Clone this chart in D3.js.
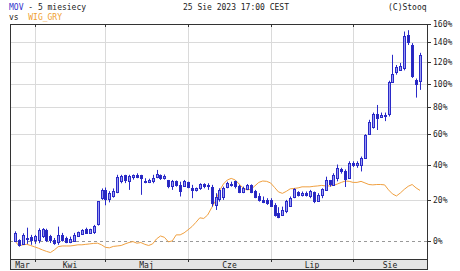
<!DOCTYPE html>
<html>
<head>
<meta charset="utf-8">
<script src="https://cdn.jsdelivr.net/npm/d3@7"></script>
<style>
body { margin: 0; background: #fff; }
svg { display: block; }
text { font-family: "DejaVu Sans Mono", monospace; font-size: 8px; fill: #222; }
</style>
</head>
<body>
<div id="chart"></div>
<script>
// trading days, Mar 27 - Aug 25 2023 (MM-DD)
const days = [
  "03-27","03-28","03-29","03-30","03-31",
  "04-03","04-04","04-05","04-06","04-11","04-12","04-13","04-14","04-17","04-18","04-19","04-20","04-21","04-24","04-25","04-26","04-27","04-28",
  "05-02","05-04","05-05","05-08","05-09","05-10","05-11","05-12","05-15","05-16","05-17","05-18","05-19","05-22","05-23","05-24","05-25","05-26","05-29","05-30","05-31",
  "06-01","06-02","06-05","06-06","06-07","06-09","06-12","06-13","06-14","06-15","06-16","06-19","06-20","06-21","06-22","06-23","06-26","06-27","06-28","06-29","06-30",
  "07-03","07-04","07-05","07-06","07-07","07-10","07-11","07-12","07-13","07-14","07-17","07-18","07-19","07-20","07-21","07-24","07-25","07-26","07-27","07-28","07-31",
  "08-01","08-02","08-03","08-04","08-07","08-08","08-09","08-10","08-11","08-14","08-16","08-17","08-18","08-21","08-22","08-23","08-24","08-25"
];
const monthNames = ["Mar", "Kwi", "Maj", "Cze", "Lip", "Sie"];

// MOV, % change
const open = [0.3,0.2,-1.0,1.5,1.8,0.3,0.5,2.2,5.0,2.0, 0.5,-0.8,2.8,1.5,-0.5,0.3,2.2,3.0,5.6,3.5,
  4.0,7.3,20.5,25.0,20.5,22.0,24.3,30.0,33.5,30.5, 32.5,33.5,33.5,30.0,29.5,30.0,32.5,33.5,32.0,30.5,
  27.0,30.0,28.0,27.0,29.5,26.0,24.8,26.0,28.5,27.5, 27.0,17.5,20.0,21.0,27.0,28.5,30.0,27.5,24.0,25.5,
  28.0,24.5,22.0,20.0,19.5,20.0,17.0,13.0,12.0,14.0, 17.0,21.0,24.0,22.5,23.5,22.0,24.0,19.5,22.0,25.5,
  30.5,28.0,32.0,37.0,36.0,32.0,41.0,40.0,39.8,44.0, 60.0,65.0,75.0,73.0,73.0,74.5,102.0,110.0,113.0,114.5,
  148.0,137.0,103.5,102.0];
const high = [4.3,0.7,3.4,6.0,2.7,2.7,5.7,5.8,5.5,2.7, 1.3,6.5,3.6,1.9,1.9,3.6,4.2,5.3,6.0,5.5,
  7.3,19.2,26.0,26.5,24.5,26.0,33.8,33.8,33.8,33.8, 34.0,34.7,33.8,31.8,31.5,33.8,36.7,34.0,34.0,30.8,
  30.8,30.5,29.8,30.8,29.8,28.0,26.5,28.9,28.9,28.9, 28.0,23.4,26.1,27.0,29.8,29.8,30.4,28.0,27.0,28.5,
  28.3,25.2,23.4,21.6,20.7,20.7,18.1,16.0,16.3,19.8, 21.6,26.1,24.5,24.3,24.3,25.2,24.3,23.4,26.1,32.7,
  30.8,34.7,40.0,38.0,37.0,42.0,42.0,42.0,45.0,60.0, 70.5,76.0,82.0,76.0,76.0,102.5,127.0,117.0,119.0,151.5,
  153.0,139.0,104.5,129.0];
const low = [-0.5,-2.5,-1.7,-1.3,-1.7,-1.3,-1.0,1.3,-0.5,-0.9, -1.7,-1.7,-0.3,-1.0,-1.0,-0.3,1.9,2.7,3.1,3.1,
  3.1,7.0,19.8,17.0,18.5,21.0,23.4,28.9,29.0,25.2, 31.0,31.8,22.5,28.9,29.0,28.9,31.8,30.8,31.0,26.1,
  25.2,27.0,21.6,27.0,26.1,20.7,24.3,25.2,26.1,25.2, 16.3,14.6,18.9,19.8,26.1,27.0,26.0,23.4,23.4,25.2,
  23.4,20.7,18.9,18.1,17.2,16.3,11.3,10.5,12.0,13.0, 16.3,20.7,21.6,21.6,21.6,20.7,18.1,18.9,20.7,25.2,
  27.0,28.0,30.0,34.5,26.8,31.5,38.5,38.0,35.8,43.5, 59.5,64.0,63.0,72.0,69.5,73.0,101.0,108.0,112.0,112.0,
  137.0,105.0,88.0,94.5];
const close = [3.7,-1.8,2.8,1.0,0.5,2.2,5.0,5.2,0.5,0.2, -1.0,2.5,0.5,-0.2,1.0,2.8,3.8,5.0,3.6,5.2,
  6.8,19.0,25.0,20.0,23.5,24.5,32.7,33.0,30.5,33.3, 33.5,32.5,32.0,29.5,30.5,31.8,34.5,32.0,33.0,27.0,
  30.0,27.5,24.5,30.0,26.5,25.0,26.0,28.5,27.5,28.0, 18.5,21.5,25.0,26.0,29.0,28.0,27.0,24.0,26.0,28.0,
  24.0,21.5,20.0,19.0,18.0,16.8,12.0,11.0,14.5,19.0, 21.0,25.5,22.5,23.5,22.5,24.5,19.0,22.5,25.5,31.0,
  28.0,33.5,38.0,35.5,31.5,41.0,40.0,41.0,44.0,59.5, 69.0,75.0,72.0,74.5,74.0,101.0,109.0,115.0,116.5,147.0,
  140.0,107.0,100.0,127.0];

// WIG_GRY, % change
const wig = [0,-2.2,-1.7,-1.5,-2.0,-2.6,-3.2,-3.9,-4.5,-5.0, -3.9,-2.5,-2.2,-2.2,-2.2,-2.0,-1.7,-1.7,-1.5,-1.3,
  -1.1,-1.0,-1.7,-2.8,-3.0,-2.4,-2.2,-2.0,-1.3,-0.7, -0.3,-1.0,-0.7,-1.5,-2.0,-1.3,0.9,2.2,1.6,-0.4,
  0,2.7,2.7,3.6,5.0,6.5,8.5,10.7,10.4,12.1, 15.7,19.3,24.7,28.5,30.8,31.7,30.8,28.5,26.3,25.2,
  25.5,27.4,29.4,30.2,30.0,29.1,26.6,24.1,23.3,24.4, 25.8,26.0,26.3,26.9,26.9,26.9,27.2,27.4,27.7,27.4,
  27.4,27.7,28.5,29.4,30.2,30.0,29.4,29.4,30.0,29.1, 28.2,28.0,28.2,28.2,28.0,25.2,23.0,21.9,23.5,25.5,
  27.2,28.2,26.3,24.9];

const yTicks = [0, 20, 40, 60, 80, 100, 120, 140, 160];

const width = 460, height = 271;
const plotL = 10, plotR = 427, plotT = 24, plotB = 259, band = 10;

const svg = d3.select("#chart").append("svg")
    .attr("width", width)
    .attr("height", height);

const x = d3.scalePoint()
    .domain(d3.range(days.length))
    .range([15, 420]);

// log scale on growth factor
const y = d3.scaleLog()
    .domain([0.9234, 2.6])
    .range([plotB, plotT]);
const yp = p => y(1 + p / 100);
const px = i => Math.round(x(i));

// month start indices
const monthStarts = [];
days.forEach((d, i) => {
    if (i === 0 || d.slice(0, 2) !== days[i - 1].slice(0, 2)) monthStarts.push(i);
});

// grid
svg.append("g").selectAll("line")
    .data(yTicks.filter(t => t > 0))
    .enter().append("line")
    .attr("x1", plotL).attr("x2", plotR)
    .attr("y1", d => Math.round(yp(d)) + 0.5)
    .attr("y2", d => Math.round(yp(d)) + 0.5)
    .attr("stroke", "#dadada");

svg.append("line")
    .attr("x1", plotL).attr("x2", plotR)
    .attr("y1", Math.round(yp(0)) + 0.5)
    .attr("y2", Math.round(yp(0)) + 0.5)
    .attr("stroke", "#999")
    .attr("stroke-dasharray", "3,3");

svg.append("g").selectAll("line")
    .data(monthStarts.slice(1))
    .enter().append("line")
    .attr("x1", d => px(d) + 0.5).attr("x2", d => px(d) + 0.5)
    .attr("y1", plotT).attr("y2", plotB)
    .attr("stroke", "#dadada");

// WIG_GRY line
svg.append("path")
    .datum(wig)
    .attr("fill", "none")
    .attr("stroke", "#f0a040")
    .attr("stroke-width", 1)
    .attr("d", d3.line().x((d, i) => x(i)).y(d => yp(d)));

// candles
const candles = svg.append("g").selectAll("g")
    .data(days.map((d, i) => i))
    .enter().append("g");

candles.append("line")
    .attr("x1", i => px(i) + 0.5).attr("x2", i => px(i) + 0.5)
    .attr("y1", i => yp(high[i])).attr("y2", i => yp(low[i]))
    .attr("stroke", "#2a2ac8");

candles.append("rect")
    .attr("x", i => px(i) - 0.5)
    .attr("width", 2)
    .attr("y", i => Math.round(yp(Math.max(open[i], close[i]))) + 0.5)
    .attr("height", i => Math.max(1, Math.round(yp(Math.min(open[i], close[i])) - yp(Math.max(open[i], close[i])))))
    .attr("fill", i => close[i] >= open[i] ? "#9a9af2" : "#2626b8")
    .attr("stroke", "#2a2ac8");

// frame and bottom band
svg.append("rect")
    .attr("x", plotL + 0.5).attr("y", plotB + 0.5)
    .attr("width", plotR - plotL).attr("height", band)
    .attr("fill", "#e4e4e4").attr("stroke", "#333");

svg.append("rect")
    .attr("x", plotL + 0.5).attr("y", plotT + 0.5)
    .attr("width", plotR - plotL).attr("height", plotB - plotT)
    .attr("fill", "none").attr("stroke", "#333");

// ticks
svg.append("g").selectAll("line")
    .data(yTicks)
    .enter().append("line")
    .attr("x1", plotR).attr("x2", plotR + 4)
    .attr("y1", d => Math.round(yp(d)) + 0.5)
    .attr("y2", d => Math.round(yp(d)) + 0.5)
    .attr("stroke", "#333");

svg.append("g").selectAll("line")
    .data(monthStarts.slice(1))
    .enter().append("line")
    .attr("x1", d => px(d) + 0.5).attr("x2", d => px(d) + 0.5)
    .attr("y1", plotT).attr("y2", plotT + 3)
    .attr("stroke", "#333");

svg.append("g").selectAll("line")
    .data(monthStarts.slice(1))
    .enter().append("line")
    .attr("x1", d => px(d) + 0.5).attr("x2", d => px(d) + 0.5)
    .attr("y1", plotB).attr("y2", plotB + 3)
    .attr("stroke", "#333");

// labels
svg.append("g").selectAll("text")
    .data(yTicks)
    .enter().append("text")
    .attr("x", plotR + 6)
    .attr("y", d => yp(d) + 3)
    .text(d => d + "%");

const edges = monthStarts.slice(1).map(px);
const bounds = [plotL].concat(edges, [plotR]);
svg.append("g").selectAll("text")
    .data(monthNames)
    .enter().append("text")
    .attr("x", (d, i) => (bounds[i] + bounds[i + 1]) / 2)
    .attr("y", plotB + 9)
    .attr("text-anchor", "middle")
    .text(d => d);

const t1 = svg.append("text").attr("x", 9).attr("y", 10);
t1.append("tspan").style("fill", "#3333cc").text("MOV");
t1.append("tspan").text(" - 5 miesiecy");

svg.append("text").attr("x", 183).attr("y", 10).text("25 Sie 2023 17:00 CEST");
svg.append("text").attr("x", 388).attr("y", 10).text("(C)Stooq");

const t2 = svg.append("text").attr("x", 9).attr("y", 20).attr("xml:space", "preserve");
t2.append("tspan").text("vs  ");
t2.append("tspan").style("fill", "#f0a030").text("WIG_GRY");
</script>
</body>
</html>
